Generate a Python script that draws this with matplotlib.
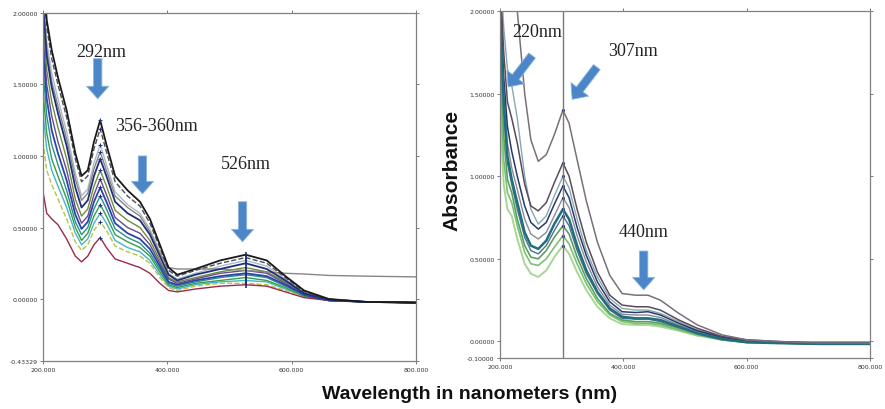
import matplotlib
matplotlib.use("Agg")
import matplotlib.pyplot as plt
from matplotlib.ticker import FixedLocator, FixedFormatter

# ---- left panel: spectra (wavelength grid + absorbance per curve) ----
left_wl = [200, 206, 214, 224, 238, 252, 262, 272, 282, 292, 302, 316, 336, 356,
           372, 388, 402, 416, 445, 485, 526, 560, 590, 620, 660, 720, 800]

left_c1 = [2.30, 1.95, 1.74, 1.55, 1.32, 1.02, 0.86, 0.90, 1.10, 1.25, 1.08, 0.86, 0.76, 0.68,
           0.56, 0.38, 0.22, 0.17, 0.21, 0.27, 0.31, 0.27, 0.16, 0.06, 0.00, -0.02, -0.025]
left_c2 = [2.25, 1.90, 1.68, 1.50, 1.27, 0.98, 0.82, 0.86, 1.05, 1.19, 1.03, 0.82, 0.72, 0.65,
           0.53, 0.36, 0.20, 0.16, 0.20, 0.25, 0.29, 0.25, 0.15, 0.05, 0.00, -0.02, -0.025]
left_c3 = [2.15, 1.80, 1.58, 1.40, 1.17, 0.88, 0.72, 0.77, 0.95, 1.08, 0.94, 0.75, 0.66, 0.60,
           0.49, 0.33, 0.18, 0.14, 0.18, 0.23, 0.27, 0.23, 0.14, 0.05, 0.00, -0.02, -0.025]
left_c4 = [2.05, 1.70, 1.48, 1.30, 1.07, 0.78, 0.64, 0.69, 0.86, 0.98, 0.86, 0.68, 0.60, 0.55,
           0.45, 0.30, 0.17, 0.13, 0.17, 0.21, 0.25, 0.21, 0.13, 0.04, -0.005, -0.02, -0.025]
left_c5 = [1.95, 1.60, 1.38, 1.20, 0.98, 0.70, 0.58, 0.63, 0.79, 0.90, 0.79, 0.62, 0.55, 0.50,
           0.41, 0.27, 0.15, 0.12, 0.15, 0.19, 0.22, 0.19, 0.12, 0.04, -0.005, -0.02, -0.025]
left_c6 = [1.85, 1.50, 1.28, 1.10, 0.90, 0.64, 0.53, 0.58, 0.73, 0.84, 0.73, 0.57, 0.50, 0.46,
           0.38, 0.25, 0.14, 0.11, 0.14, 0.18, 0.20, 0.18, 0.11, 0.03, -0.01, -0.02, -0.025]
left_c7 = [1.75, 1.40, 1.18, 1.02, 0.83, 0.59, 0.49, 0.54, 0.68, 0.78, 0.68, 0.53, 0.46, 0.42,
           0.35, 0.23, 0.12, 0.10, 0.13, 0.16, 0.18, 0.16, 0.10, 0.03, -0.01, -0.02, -0.025]
left_c8 = [1.60, 1.28, 1.08, 0.94, 0.76, 0.54, 0.45, 0.50, 0.63, 0.72, 0.63, 0.49, 0.43, 0.39,
           0.32, 0.21, 0.11, 0.09, 0.12, 0.15, 0.17, 0.15, 0.09, 0.03, -0.01, -0.02, -0.025]
left_c9 = [1.45, 1.16, 0.98, 0.86, 0.70, 0.50, 0.41, 0.46, 0.58, 0.66, 0.58, 0.45, 0.40, 0.36,
           0.30, 0.19, 0.10, 0.08, 0.11, 0.13, 0.15, 0.13, 0.08, 0.02, -0.01, -0.02, -0.025]
left_c10 = [1.30, 1.05, 0.90, 0.79, 0.64, 0.46, 0.38, 0.42, 0.53, 0.60, 0.53, 0.41, 0.36, 0.33,
            0.27, 0.17, 0.09, 0.07, 0.10, 0.12, 0.13, 0.12, 0.07, 0.02, -0.01, -0.02, -0.025]
left_c11 = [1.10, 0.90, 0.80, 0.70, 0.56, 0.40, 0.34, 0.38, 0.48, 0.54, 0.48, 0.37, 0.33, 0.30,
            0.25, 0.15, 0.08, 0.06, 0.09, 0.11, 0.11, 0.10, 0.06, 0.02, -0.01, -0.02, -0.025]
left_c12 = [0.75, 0.60, 0.56, 0.52, 0.42, 0.30, 0.26, 0.30, 0.38, 0.43, 0.36, 0.28, 0.25, 0.22,
            0.18, 0.11, 0.06, 0.05, 0.07, 0.09, 0.10, 0.09, 0.05, 0.01, -0.01, -0.02, -0.025]
left_odd = [2.10, 1.75, 1.52, 1.35, 1.12, 0.84, 0.69, 0.74, 0.91, 1.03, 0.90, 0.72, 0.64, 0.58,
            0.47, 0.32, 0.22, 0.21, 0.21, 0.21, 0.20, 0.19, 0.18, 0.175, 0.165, 0.16, 0.155]

left_curves = [left_c3, left_c10, left_c11, left_c9, left_c8, left_c5, left_c6, left_c12,
               left_c7, left_odd, left_c4, left_c2, left_c1]
left_colors = ['#a9bccb', '#45b5c8', '#b9c24a', '#3a9a4a', '#2a8f8f', '#6d8f3a', '#6a4b8a',
               '#9a2a4a', '#2845a8', '#8a8585', '#1f2f7a', '#4d4d55', '#1a1a1a']
left_styles = ['-', '-', '--', '-', '-', '-', '-', '-', '-', '-', '-', '--', '-']

# ---- right panel ----
right_wl = [200, 206, 212, 219, 228, 240, 250, 262, 275, 288, 302, 312, 325, 340, 358,
            378, 398, 420, 440, 460, 490, 520, 560, 600, 650, 720, 800]

right_c1 = [2.60, 2.50, 2.35, 2.20, 2.00, 1.50, 1.22, 1.09, 1.13, 1.25, 1.40, 1.32, 1.10, 0.85, 0.60,
            0.40, 0.29, 0.28, 0.28, 0.25, 0.17, 0.10, 0.04, 0.01, 0.00, -0.01, -0.01]
right_c2 = [2.20, 1.75, 1.45, 1.35, 1.20, 0.95, 0.82, 0.79, 0.84, 0.96, 1.08, 1.00, 0.80, 0.60, 0.42,
            0.28, 0.22, 0.21, 0.21, 0.19, 0.13, 0.08, 0.03, 0.01, 0.00, -0.01, -0.01]
right_c3 = [2.30, 1.90, 1.65, 1.55, 1.35, 1.00, 0.80, 0.71, 0.76, 0.88, 1.00, 0.93, 0.74, 0.55, 0.39,
            0.26, 0.20, 0.19, 0.19, 0.17, 0.12, 0.07, 0.03, 0.005, -0.005, -0.01, -0.01]
right_c4 = [2.10, 1.60, 1.30, 1.15, 1.00, 0.82, 0.72, 0.68, 0.72, 0.83, 0.94, 0.87, 0.69, 0.52, 0.36,
            0.24, 0.18, 0.175, 0.18, 0.16, 0.11, 0.065, 0.025, 0.00, -0.01, -0.015, -0.015]
right_c5 = [2.05, 1.50, 1.20, 1.05, 0.92, 0.74, 0.65, 0.62, 0.66, 0.76, 0.87, 0.81, 0.64, 0.48, 0.33,
            0.22, 0.165, 0.16, 0.16, 0.145, 0.10, 0.06, 0.02, 0.00, -0.01, -0.01, -0.01]
right_c6 = [2.00, 1.45, 1.12, 0.98, 0.84, 0.66, 0.58, 0.56, 0.61, 0.71, 0.80, 0.74, 0.58, 0.43, 0.30,
            0.20, 0.15, 0.14, 0.14, 0.13, 0.09, 0.05, 0.015, -0.005, -0.01, -0.015, -0.015]
right_c7 = [1.95, 1.40, 1.08, 0.95, 0.80, 0.63, 0.55, 0.53, 0.58, 0.67, 0.76, 0.70, 0.55, 0.41, 0.29,
            0.19, 0.14, 0.135, 0.135, 0.12, 0.085, 0.05, 0.015, -0.005, -0.01, -0.015, -0.015]
right_c8 = [1.80, 1.25, 0.98, 0.90, 0.74, 0.58, 0.51, 0.50, 0.55, 0.63, 0.70, 0.65, 0.51, 0.38, 0.26,
            0.17, 0.13, 0.12, 0.12, 0.11, 0.08, 0.045, 0.01, -0.005, -0.005, -0.005, -0.005]
right_c9 = [1.60, 1.10, 0.90, 0.84, 0.70, 0.54, 0.47, 0.46, 0.50, 0.57, 0.64, 0.59, 0.47, 0.35, 0.24,
            0.16, 0.12, 0.11, 0.11, 0.10, 0.07, 0.04, 0.01, -0.005, -0.005, -0.005, -0.005]
right_c10 = [1.40, 0.95, 0.80, 0.76, 0.62, 0.47, 0.41, 0.39, 0.43, 0.51, 0.58, 0.53, 0.42, 0.31, 0.21,
             0.14, 0.105, 0.10, 0.10, 0.09, 0.065, 0.035, 0.01, -0.005, -0.005, -0.005, -0.005]

right_curves = [right_c10, right_c9, right_c8, right_c7, right_c5, right_c3, right_c4,
                right_c6, right_c2, right_c1]
right_colors = ['#a6d794', '#7cc070', '#5aa060', '#4f6f8f', '#8a8a9a', '#86a8b0', '#283a6a',
                '#1f6f7f', '#5a4a5a', '#7a6f7a']
right_widths = [1.4, 1.2, 1.2, 1.0, 1.0, 1.0, 1.1, 1.8, 1.1, 1.1]

cursor_wl = 302

left_yticks = [-0.43329, 0.0, 0.5, 1.0, 1.5, 2.0]
right_yticks = [-0.1, 0.0, 0.5, 1.0, 1.5, 2.0]
xticks = [200, 400, 600, 800]

# annotations: label, text position, arrow tail, arrow tip (data units)
left_notes = [("292nm", (294, 1.73), (288, 1.68), (288, 1.40)),
              ("356-360nm", (383, 1.21), (360, 1.00), (360, 0.735)),
              ("526nm", (526, 0.945), (521, 0.68), (521, 0.40))]
right_notes = [("220nm", (260, 1.875), (252, 1.73), (213, 1.54)),
               ("307nm", (415, 1.76), (357, 1.66), (317, 1.465)),
               ("440nm", (433, 0.667), (433, 0.547), (433, 0.312))]

arrow_blue = '#4a86c8'

fig = plt.figure(figsize=(8.85, 4.1), dpi=100)
ax1 = fig.add_axes([0.0486, 0.117, 0.4214, 0.849])
ax2 = fig.add_axes([0.565, 0.1244, 0.418, 0.8466])

for y, c, ls in zip(left_curves, left_colors, left_styles):
    lw = 1.3 if c in ('#1a1a1a', '#2845a8', '#1f2f7a') else 1.0
    ax1.plot(left_wl, y, color=c, lw=lw, ls=ls)
    # cursor markers at the peaks
    i292 = left_wl.index(292)
    i526 = left_wl.index(526)
    ax1.plot([left_wl[i292]], [y[i292]], marker='+', ms=3, color='#1f2f7a', mew=0.7)
    ax1.plot([left_wl[i526]], [y[i526]], marker='|', ms=5, color='#1f2f7a', mew=1.2)

for y, c, lw in zip(right_curves, right_colors, right_widths):
    ax2.plot(right_wl, y, color=c, lw=lw)
    i302 = right_wl.index(cursor_wl)
    ax2.plot([right_wl[i302]], [y[i302]], marker='.', ms=2.5, color='#1f2f7a')

ax2.axvline(cursor_wl, color='#777777', lw=1.0)

ax1.set_xlim(200, 800)
ax1.set_ylim(left_yticks[0], 2.0)
ax2.set_xlim(200, 800)
ax2.set_ylim(right_yticks[0], 2.0)

for ax, yt in ((ax1, left_yticks), (ax2, right_yticks)):
    ax.xaxis.set_major_locator(FixedLocator(xticks))
    ax.xaxis.set_major_formatter(FixedFormatter(['%.3f' % v for v in xticks]))
    ax.yaxis.set_major_locator(FixedLocator(yt))
    ax.yaxis.set_major_formatter(FixedFormatter(['%.5f' % v for v in yt]))
    ax.tick_params(labelsize=4.5, length=2.5, width=0.6, colors='#666666',
                   labelcolor='#333333', pad=1.5, top=True, right=True, direction='out')
    for s in ax.spines.values():
        s.set_color('#808080')
        s.set_linewidth(0.9)

for ax, notes in ((ax1, left_notes), (ax2, right_notes)):
    for label, tpos, tail, tip in notes:
        ax.text(tpos[0], tpos[1], label, family='Liberation Serif', fontsize=13,
                color='#222222', ha='center', va='center')
        ax.annotate('', xy=tip, xytext=tail,
                    arrowprops=dict(arrowstyle='simple,tail_width=0.6,head_width=1.6,head_length=0.9',
                                    mutation_scale=10, fc=arrow_blue, ec='#8fb4dc', lw=0.6,
                                    shrinkA=0, shrinkB=0))

fig.text(0.511, 0.585, 'Absorbance', rotation=90, ha='center', va='center',
         family='Liberation Sans', fontweight='bold', fontsize=15, color='#111111')
fig.text(0.531, 0.037, 'Wavelength in nanometers (nm)', ha='center', va='center',
         family='Liberation Sans', fontweight='bold', fontsize=14, color='#111111')

fig.savefig('out.png', dpi=100, facecolor='white')
